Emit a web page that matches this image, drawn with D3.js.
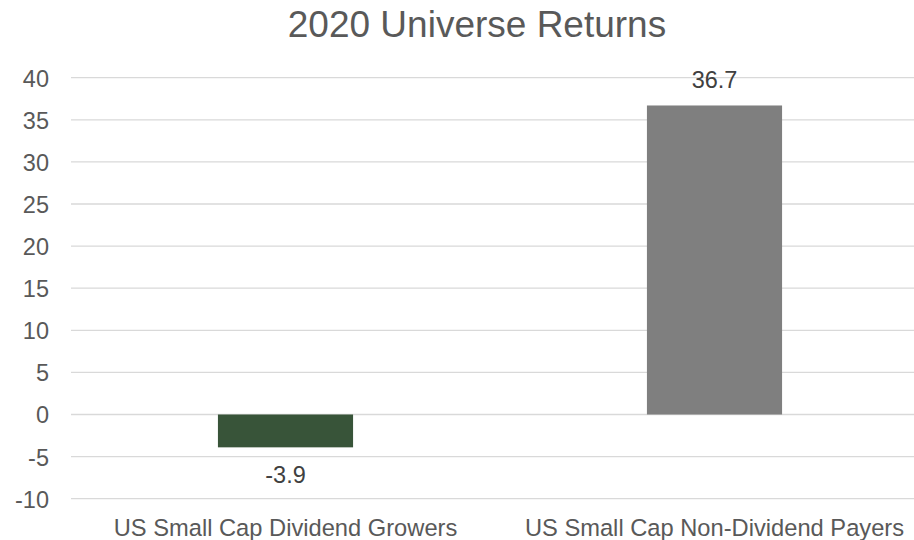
<!DOCTYPE html>
<html>
<head>
<meta charset="utf-8">
<script src="https://cdn.jsdelivr.net/npm/d3@7"></script>
<style>
  html, body { margin: 0; padding: 0; background: #fff; }
  svg { display: block; font-family: "Liberation Sans", Arial, sans-serif; }
</style>
</head>
<body>
<svg id="chart" width="914" height="540"></svg>
<script>
// Data
const categories = ["US Small Cap Dividend Growers", "US Small Cap Non-Dividend Payers"];
const returns = [-3.9, 36.7];
const barColors = ["#385439", "#7f7f7f"];
const yTicks = [-10, -5, 0, 5, 10, 15, 20, 25, 30, 35, 40];
const title = "2020 Universe Returns";

const svg = d3.select("#chart");
const W = 914, H = 540;

// Plain hyphen-minus for negative numbers
const fmtInt = d3.formatLocale({ decimal: ".", thousands: ",", grouping: [3], currency: ["", ""], minus: "-" }).format("d");
const fmtOne = d3.formatLocale({ decimal: ".", thousands: ",", grouping: [3], currency: ["", ""], minus: "-" }).format(".1f");

// Plot area (the category band runs past the right edge)
const x = d3.scaleBand().domain(categories).range([71, 929]).padding(0);
const y = d3.scaleLinear().domain([-10, 40]).range([498.7, 77.7]);
const barW = x.bandwidth() * 0.315;

// Gridlines
svg.append("g")
  .selectAll("line")
  .data(yTicks)
  .join("line")
  .attr("x1", 71).attr("x2", W)
  .attr("y1", d => y(d)).attr("y2", d => y(d))
  .attr("stroke", "#d9d9d9")
  .attr("stroke-width", 1.3);

// Y axis labels
const yAxis = d3.axisLeft(y).tickValues(yTicks).tickFormat(fmtInt).tickSize(0).tickPadding(0);
const gy = svg.append("g").attr("transform", "translate(49,0)").call(yAxis);
gy.select(".domain").remove();
gy.selectAll("text")
  .attr("fill", "#595959")
  .attr("font-size", "23.5px")
  .attr("font-family", "Liberation Sans, Arial, sans-serif")
  .attr("dy", "0.36em");

// Bars
const data = categories.map((c, i) => ({ c, v: returns[i], color: barColors[i] }));
svg.append("g")
  .selectAll("rect")
  .data(data)
  .join("rect")
  .attr("x", d => x(d.c) + (x.bandwidth() - barW) / 2)
  .attr("width", barW)
  .attr("y", d => y(Math.max(0, d.v)))
  .attr("height", d => Math.abs(y(d.v) - y(0)))
  .attr("fill", d => d.color);

// Value labels
svg.append("g")
  .selectAll("text")
  .data(data)
  .join("text")
  .attr("x", d => x(d.c) + x.bandwidth() / 2)
  .attr("y", d => d.v >= 0 ? y(d.v) - 17 : y(d.v) + 36)
  .attr("text-anchor", "middle")
  .attr("fill", "#404040")
  .attr("font-size", "23.5px")
  .text(d => fmtOne(d.v));

// Category labels
const xAxis = d3.axisBottom(x).tickSize(0).tickPadding(0);
const gx = svg.append("g").attr("transform", "translate(0,536)").call(xAxis);
gx.select(".domain").remove();
gx.selectAll("text")
  .attr("fill", "#595959")
  .attr("font-size", "23.7px")
  .attr("font-family", "Liberation Sans, Arial, sans-serif")
  .attr("dy", 0);

// Title
svg.append("text")
  .attr("x", 477)
  .attr("y", 37)
  .attr("text-anchor", "middle")
  .attr("fill", "#595959")
  .attr("font-size", "37px")
  .text(title);
</script>
</body>
</html>
